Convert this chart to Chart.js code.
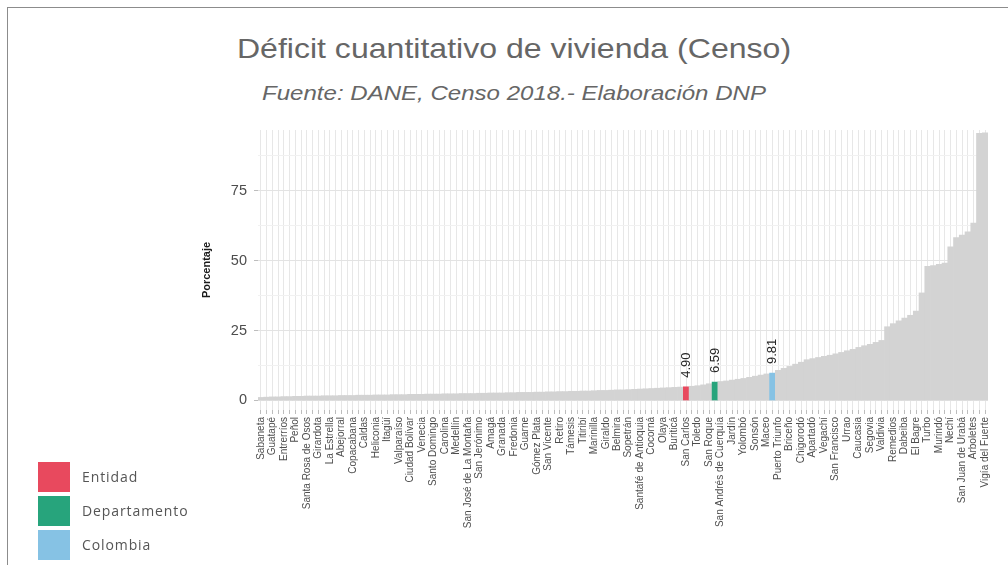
<!DOCTYPE html>
<html>
<head>
<meta charset="utf-8">
<script src="https://cdn.jsdelivr.net/npm/chart.js@4.4.0/dist/chart.umd.min.js"></script>
<style>
  html, body { margin: 0; padding: 0; background: #fff; }
  #wrap { position: relative; width: 1008px; height: 565px; overflow: hidden; }
  #frame { position: absolute; left: 7px; top: 7px; right: -4px; bottom: -4px;
           border-top: 1px solid #8c8c8c; border-left: 1px solid #8c8c8c; }
  #chart { position: absolute; left: 0; top: 0; }
  .title { position: absolute; left: 10px; width: 1008px; text-align: center;
           font-family: "Liberation Sans", Arial, sans-serif; color: #666; white-space: nowrap;
           transform: scaleX(1.145); transform-origin: 504px 0; }
  #t1 { top: 33px; font-size: 28px; }
  #t2 { top: 81px; font-size: 21px; font-style: italic; }
  .leg { position: absolute; left: 38px; font-family: "Open Sans", sans-serif; font-size: 14px;
         letter-spacing: 0.9px; color: #555; }
  .leg span { position: absolute; left: 0; top: 0; width: 32px; height: 30px; }
  .leg b { position: absolute; left: 44px; top: 5px; font-weight: normal; white-space: nowrap; }
</style>
</head>
<body>
<div id="wrap">
  <div id="frame"></div>
  <div class="title" id="t1">Déficit cuantitativo de vivienda (Censo)</div>
  <div class="title" id="t2">Fuente: DANE, Censo 2018.- Elaboración DNP</div>
  <canvas id="chart" width="1008" height="565"></canvas>
  <div id="legend"></div>
</div>
<script>
// municipalities sorted by deficit, plus department and country
const categories = [
  'Sabaneta', 'Envigado', 'Guatapé', 'Rionegro', 'Entrerríos', 'La Ceja', 'Peñol', 'El Carmen de Viboral',
  'Santa Rosa de Osos', 'El Santuario', 'Girardota', 'Bello', 'La Estrella', 'Barbosa', 'Abejorral', 'Donmatías',
  'Copacabana', 'San Pedro de los Milagros', 'Caldas', 'La Unión', 'Heliconia', 'Jericó', 'Itagüí', 'Andes',
  'Valparaíso', 'Santa Bárbara', 'Ciudad Bolívar', 'Montebello', 'Venecia', 'Concordia', 'Santo Domingo', 'Betania',
  'Carolina', 'Hispania', 'Medellín', 'Salgar', 'San José de La Montaña', 'Betulia', 'San Jerónimo', 'Caramanta',
  'Amagá', 'Tarso', 'Granada', 'Pueblorrico', 'Fredonia', 'Angelópolis', 'Guarne', 'Armenia',
  'Gómez Plata', 'Ebéjico', 'San Vicente', 'La Pintada', 'Retiro', 'Alejandría', 'Támesis', 'Concepción',
  'Titiribí', 'San Rafael', 'Marinilla', 'San Luis', 'Giraldo', 'Guadalupe', 'Belmira', 'Angostura',
  'Sopetrán', 'Yarumal', 'Santafé de Antioquia', 'Liborina', 'Cocorná', 'Sabanalarga', 'Olaya', 'Abriaquí',
  'Buriticá', 'Caicedo', 'San Carlos', 'Anzá', 'Toledo', 'Argelia', 'San Roque', 'Antioquia',
  'San Andrés de Cuerquía', 'Nariño', 'Jardín', 'Cisneros', 'Yolombó', 'Caracolí', 'Sonsón', 'Campamento',
  'Maceo', 'Colombia', 'Puerto Triunfo', 'Puerto Nare', 'Briceño', 'Puerto Berrío', 'Chigorodó', 'Amalfi',
  'Apartadó', 'Yalí', 'Vegachí', 'Anorí', 'San Francisco', 'Frontino', 'Urrao', 'Cañasgordas',
  'Caucasia', 'Uramita', 'Segovia', 'Ituango', 'Valdivia', 'Peque', 'Remedios', 'Yondó',
  'Dabeiba', 'Zaragoza', 'El Bagre', 'Tarazá', 'Turbo', 'Cáceres', 'Murindó', 'Carepa',
  'Nechí', 'Mutatá', 'San Juan de Urabá', 'San Pedro de Urabá', 'Arboletes', 'Necoclí', 'Vigía del Fuerte'
];

// percentage of households
const deficit = [
  1.1, 1.2, 1.3, 1.3, 1.4, 1.4, 1.5, 1.5,
  1.6, 1.6, 1.6, 1.7, 1.7, 1.7, 1.8, 1.8,
  1.8, 1.9, 1.9, 1.9, 2.0, 2.0, 2.0, 2.1,
  2.1, 2.1, 2.2, 2.2, 2.2, 2.3, 2.3, 2.3,
  2.4, 2.4, 2.4, 2.5, 2.5, 2.5, 2.6, 2.6,
  2.7, 2.7, 2.7, 2.8, 2.8, 2.9, 2.9, 2.9,
  3.0, 3.0, 3.1, 3.1, 3.2, 3.2, 3.3, 3.3,
  3.4, 3.4, 3.5, 3.6, 3.6, 3.7, 3.8, 3.8,
  3.9, 4.0, 4.1, 4.2, 4.3, 4.4, 4.5, 4.6,
  4.7, 4.8, 4.90, 5.1, 5.3, 5.6, 6.0, 6.59,
  6.8, 7.0, 7.3, 7.6, 7.9, 8.3, 8.7, 9.1,
  9.5, 9.81, 10.8, 11.5, 12.2, 13.0, 13.7, 14.6,
  15.0, 15.4, 15.8, 16.2, 16.7, 17.2, 17.8, 18.3,
  19.0, 19.6, 20.1, 20.8, 21.5, 26.4, 27.5, 28.5,
  29.5, 30.5, 32.0, 38.5, 48.0, 48.3, 48.7, 49.2,
  55.0, 58.3, 59.2, 60.4, 63.5, 95.6, 95.8
];

const legendNames = ['Entidad', 'Departamento', 'Colombia'];
const highlighted = ['San Carlos', 'Antioquia', 'Colombia'];
const highlightColors = ['#e8495e', '#27a47c', '#86c2e4'];
const yTicks = [0, 25, 50, 75];

const FONT = '"Liberation Sans", Arial, sans-serif';

function barColor(name) {
  const k = highlighted.indexOf(name);
  return k >= 0 ? highlightColors[k] : '#d3d3d3';
}

// legend in the lower left corner
const legendEl = document.getElementById('legend');
legendNames.forEach((name, k) => {
  const row = document.createElement('div');
  row.className = 'leg';
  row.style.top = (462 + k * 34) + 'px';
  row.innerHTML = '<span style="background:' + highlightColors[k] + '"></span><b>' + name + '</b>';
  legendEl.appendChild(row);
});

// rotated values above the highlighted bars
const valueLabels = {
  id: 'valueLabels',
  afterDatasetsDraw(chart) {
    const meta = chart.getDatasetMeta(0);
    const ctx = chart.ctx;
    highlighted.forEach(name => {
      const i = categories.indexOf(name);
      const bar = meta.data[i];
      ctx.save();
      ctx.translate(bar.x, bar.y - 9);
      ctx.rotate(-Math.PI / 2);
      ctx.font = '13px ' + FONT;
      ctx.fillStyle = '#262626';
      ctx.textAlign = 'left';
      ctx.textBaseline = 'middle';
      ctx.fillText(deficit[i].toFixed(2), 0, 0);
      ctx.restore();
    });
  }
};

new Chart(document.getElementById('chart'), {
  type: 'bar',
  data: {
    labels: categories,
    datasets: [{
      data: deficit,
      backgroundColor: categories.map(barColor),
      borderWidth: 0,
      barPercentage: 1,
      categoryPercentage: 1
    }]
  },
  options: {
    responsive: false,
    animation: false,
    layout: { padding: { left: 196, top: 130, right: 20, bottom: 0 } },
    plugins: { legend: { display: false }, tooltip: { enabled: false } },
    scales: {
      x: {
        grid: { offset: false, color: '#e7e7e7', tickLength: 4, tickColor: '#bdbdbd' },
        border: { display: false },
        ticks: {
          autoSkip: false, minRotation: 90, maxRotation: 90, padding: 3,
          color: '#4d4d4d', font: { family: FONT, size: 10 },
          callback: (v, i) => (i % 2 === 0 ? categories[i] : '')
        },
        afterFit: s => { s.height = 155; }
      },
      y: {
        min: -3.4,
        max: 96.8,
        border: { display: false },
        grid: {
          color: c => (yTicks.includes(c.tick.value) ? '#e3e3e3' : '#f1f1f1'),
          tickLength: 4,
          tickColor: c => (yTicks.includes(c.tick.value) ? '#bdbdbd' : 'rgba(0,0,0,0)')
        },
        ticks: {
          stepSize: 12.5, includeBounds: false, padding: 7,
          color: '#4d4d4d', font: { family: FONT, size: 14.5 },
          callback: v => (yTicks.includes(v) ? v : '')
        },
        title: {
          display: true, text: 'Porcentaje', color: '#1a1a1a',
          font: { family: FONT, size: 11, weight: 'bold' }, padding: { top: 4, bottom: 0 }
        },
        afterFit: s => { s.width = 62; }
      }
    }
  },
  plugins: [valueLabels]
});
</script>
</body>
</html>
